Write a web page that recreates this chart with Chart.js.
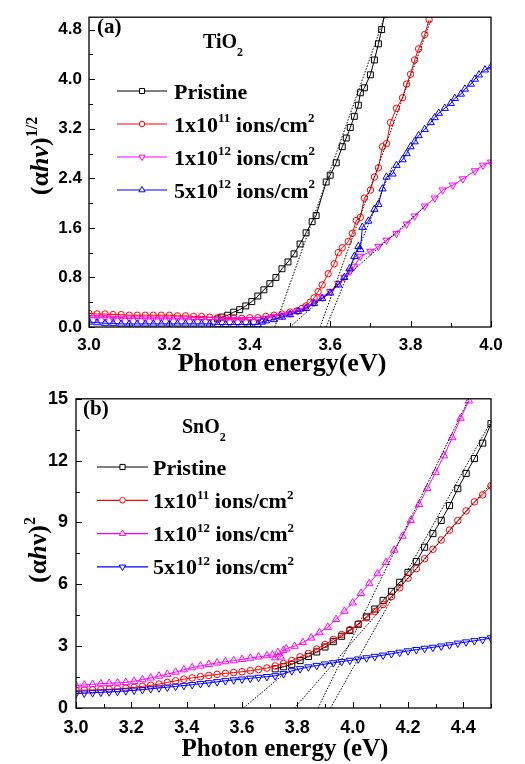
<!DOCTYPE html>
<html>
<head>
<meta charset="utf-8">
<title>Tauc plots TiO2 / SnO2</title>
<script src="https://cdn.jsdelivr.net/npm/chart.js@4.4.1/dist/chart.umd.min.js"></script>
<style>
  html, body { margin: 0; padding: 0; background: #fff; }
  canvas { display: block; }
</style>
</head>
<body>
<canvas id="chart-a" width="525" height="380"></canvas>
<canvas id="chart-b" width="525" height="384"></canvas>
<script>
const SERIF = '"Liberation Serif", "Times New Roman", serif';
const SANS  = '"Liberation Sans", Arial, sans-serif';

const seriesLabels = ['Pristine', '1x10^{11} ions/cm^{2}', '1x10^{12} ions/cm^{2}', '5x10^{12} ions/cm^{2}'];

// ---- (a) TiO2 : (alpha h v)^1/2 ----
const flatX = [3.00,3.02,3.04,3.06,3.08,3.10,3.12,3.14,3.16,3.18,3.20,3.22,3.24,3.26,3.28,3.30,3.32,3.34,3.36,3.38,3.40,3.42];

const tiPristineX = [3.32,3.33,3.345,3.36,3.375,3.39,3.405,3.42,3.435,3.45,3.465,3.48,3.495,3.51,3.525,3.54,3.555,3.565,
  3.59,3.60,3.615,3.63,3.64,3.65,3.66,3.67,3.675,3.685,3.70,3.71,3.72,3.728,3.735];
const tiPristineY = [0.13,0.16,0.19,0.24,0.28,0.34,0.41,0.50,0.60,0.70,0.80,0.94,1.05,1.18,1.34,1.52,1.70,1.80,
  2.34,2.45,2.65,2.91,3.05,3.22,3.40,3.58,3.78,3.86,4.07,4.31,4.57,4.80,5.05];

const tiIon11X = [...flatX,3.44,3.46,3.48,3.50,3.517,3.53,3.54,3.55,3.56,3.57,3.58,3.595,
  3.61,3.62,3.63,3.645,3.655,3.665,3.675,3.685,3.70,3.71,3.72,3.73,3.74,3.75,3.765,3.78,3.79,3.80,3.81,3.82,3.835,3.846];
const tiIon11Y = [0.22,0.21,0.21,0.20,0.20,0.19,0.19,0.19,0.19,0.19,0.19,0.18,0.18,0.17,0.17,0.16,0.15,0.14,0.14,0.14,0.15,0.15,
  0.17,0.19,0.21,0.24,0.26,0.30,0.34,0.40,0.47,0.57,0.68,0.86,
  1.02,1.20,1.28,1.38,1.51,1.72,1.77,2.08,2.21,2.42,2.57,2.91,2.96,3.30,3.53,3.70,3.92,4.08,4.31,4.49,4.72,4.96];

const tiIon12X = [...flatX,3.44,3.46,3.48,3.50,3.52,3.54,3.56,3.58,3.60,3.62,3.635,3.65,3.66,3.675,3.70,3.72,3.74,3.765,3.79,3.81,
  3.835,3.86,3.88,3.905,3.93,3.96,3.98,4.00];
const tiIon12Y = [0.15,0.15,0.15,0.14,0.14,0.14,0.14,0.13,0.13,0.13,0.13,0.13,0.13,0.12,0.12,0.12,0.12,0.12,0.12,0.12,0.12,0.12,
  0.14,0.17,0.19,0.22,0.26,0.32,0.40,0.48,0.57,0.70,0.80,0.90,0.98,1.14,1.22,1.30,1.40,1.51,1.66,1.79,
  1.95,2.08,2.21,2.29,2.39,2.52,2.61,2.66];

const tiIon5X = [...flatX,3.43,3.44,3.46,3.48,3.50,3.52,3.54,3.56,3.58,3.60,3.62,3.635,3.648,3.66,3.67,3.675,3.68,3.695,3.71,3.72,
  3.73,3.74,3.755,3.765,3.78,3.79,3.80,3.81,3.82,3.835,3.85,3.86,3.87,3.885,3.90,3.91,3.925,3.935,3.95,3.96,3.97,3.985,4.00];
const tiIon5Y = [0.08,0.07,0.06,0.06,0.05,0.05,0.05,0.05,0.05,0.05,0.05,0.05,0.05,0.05,0.05,0.05,0.04,0.04,0.04,0.04,0.04,0.04,
  0.08,0.10,0.12,0.16,0.20,0.25,0.30,0.38,0.46,0.55,0.68,0.80,0.94,1.14,1.30,1.25,1.61,1.71,1.90,1.98,
  2.23,2.42,2.47,2.61,2.70,2.80,2.91,2.99,3.09,3.19,3.30,3.38,3.45,3.53,3.61,3.69,3.76,3.84,3.92,4.00,4.07,4.15,4.20];

// linear fits (dotted), [x, y] end points
const tiFits = [
  [[3.462, 0], [3.735, 5.0]],
  [[3.575, 0], [3.85, 4.95]],
  [[3.50, 0], [3.84, 1.97]],
  [[3.59, 0], [3.755, 2.6]],
];

const tiXTicks = [3.0, 3.2, 3.4, 3.6, 3.8, 4.0];
const tiXMinor = [3.1, 3.3, 3.5, 3.7, 3.9];
const tiYTicks = [0, 0.8, 1.6, 2.4, 3.2, 4.0, 4.8];
const tiYMinor = [0.4, 1.2, 2.0, 2.8, 3.6, 4.4];

// ---- (b) SnO2 : (alpha h v)^2 ----
const snGrid = [3.00,3.03,3.06,3.09,3.12,3.15,3.18,3.21,3.24,3.27,3.30,3.33,3.36,3.39,3.42,3.45,3.48,3.51,3.54,3.57,
  3.60,3.63,3.66,3.69,3.72,3.75,3.78,3.81,3.84,3.87,3.90,3.93,3.96,3.99,4.02,4.05,4.08,4.11,4.14,4.17,
  4.20,4.23,4.26,4.29,4.32,4.35,4.38,4.41,4.44,4.47,4.50];

const snPristineX = snGrid.slice(24);
const snPristineY = [1.90,2.00,2.12,2.30,2.50,2.72,2.96,3.22,3.48,3.76,4.06,4.42,4.80,5.22,5.66,6.10,
  6.58,7.10,7.80,8.46,9.10,9.82,10.64,11.38,12.10,12.85,13.80];

const snIon11Y = [0.86,0.87,0.88,0.89,0.91,0.93,0.96,1.00,1.05,1.10,1.16,1.24,1.32,1.40,1.46,1.52,1.58,1.63,1.68,1.72,
  1.76,1.81,1.87,1.94,2.04,2.16,2.30,2.48,2.64,2.86,3.08,3.32,3.56,3.80,4.08,4.38,4.68,5.02,5.40,5.83,
  6.30,6.76,7.24,7.70,8.15,8.63,9.09,9.56,10.00,10.34,10.78];

const snIon12X = [...snGrid.slice(0, 24),3.71,3.72,3.73,3.74,3.75,3.76,3.79,3.82,3.85,3.88,
  3.91,3.94,3.97,4.00,4.03,4.06,4.09,4.12,4.15,4.18,4.21,4.24,4.27,4.30,4.33,4.36,4.39,4.42];
const snIon12Y = [1.09,1.12,1.15,1.18,1.20,1.22,1.24,1.30,1.38,1.46,1.55,1.64,1.74,1.86,1.96,2.04,2.12,2.19,2.25,2.30,
  2.36,2.42,2.48,2.54,2.58,2.44,2.70,2.48,2.80,2.88,3.00,3.18,3.40,3.66,
  3.92,4.30,4.70,5.10,5.56,6.04,6.52,7.06,7.66,8.34,9.10,9.88,10.66,11.44,12.24,13.12,14.06,14.90];

const snIon5Y = [0.70,0.72,0.74,0.76,0.78,0.80,0.83,0.86,0.89,0.93,0.97,1.01,1.05,1.09,1.13,1.18,1.22,1.27,1.32,1.36,
  1.40,1.44,1.48,1.52,1.56,1.66,1.80,1.90,1.99,2.06,2.13,2.19,2.25,2.31,2.37,2.43,2.50,2.56,2.63,2.70,
  2.77,2.83,2.89,2.94,3.00,3.06,3.14,3.20,3.26,3.32,3.40];

const snFits = [
  [[3.92, 0], [4.50, 13.9]],
  [[3.79, 0], [4.50, 10.9]],
  [[3.875, 0], [4.42, 15.0]],
  [[3.605, 0], [3.76, 1.75]],
];

const snXTicks = [3.0, 3.2, 3.4, 3.6, 3.8, 4.0, 4.2, 4.4];
const snXMinor = [3.1, 3.3, 3.5, 3.7, 3.9, 4.1, 4.3, 4.5];
const snYTicks = [0, 3, 6, 9, 12, 15];
const snYMinor = [1.5, 4.5, 7.5, 10.5, 13.5];

// ---------- helpers ----------
function pts(xs, ys) { return xs.map((x, i) => ({ x, y: ys[i] })); }

function tokens(str) {
  const out = [];
  const re = /([\^_~])\{([^}]*)\}|[^\^_~]+/g;
  let m;
  while ((m = re.exec(str))) out.push(m[1] ? { k: m[1], t: m[2] } : { k: '', t: m[0] });
  return out;
}

// rich text: ^{sup} _{sub} ~{italic}; y is the baseline
function drawRich(ctx, str, x, y, size, dry) {
  let cx = x;
  tokens(str).forEach(p => {
    let fs = size, dy = 0, st = 'bold';
    if (p.k === '^') { fs = Math.round(size * 0.6); dy = -size * 0.42; }
    else if (p.k === '_') { fs = Math.round(size * 0.62); dy = size * 0.42; }
    else if (p.k === '~') st = 'italic bold';
    ctx.font = `${st} ${fs}px ${SERIF}`;
    if (!dry) ctx.fillText(p.t, cx, y + dy);
    cx += ctx.measureText(p.t).width;
  });
  return cx - x;
}

function series(label, xs, ys, color, style, r, rot, order) {
  return {
    label, data: pts(xs, ys), order,
    borderColor: color, backgroundColor: 'rgba(0,0,0,0)', borderWidth: 1,
    pointStyle: style, pointRadius: r, pointRotation: rot,
    pointBorderColor: color, pointBackgroundColor: 'rgba(0,0,0,0)', pointBorderWidth: 1,
    tension: 0,
  };
}

function fitSet(f) {
  return {
    label: '', data: f.map(p => ({ x: p[0], y: p[1] })), order: 0,
    borderColor: '#000', borderWidth: 1, borderDash: [1.5, 1.5], pointRadius: 0, tension: 0,
  };
}

function makeDecor(cfg) {
  return {
    id: 'decor',
    afterDraw(chart) {
      const { ctx, chartArea: a, scales: { x, y } } = chart;
      ctx.save();
      // frame
      ctx.strokeStyle = '#000';
      ctx.lineWidth = 1.3;
      ctx.strokeRect(a.left, a.top, a.right - a.left, a.bottom - a.top);
      // inward ticks
      ctx.lineWidth = 1;
      ctx.beginPath();
      const tx = (v, len) => { const p = Math.round(x.getPixelForValue(v)) + 0.5; ctx.moveTo(p, a.bottom); ctx.lineTo(p, a.bottom - len); };
      const ty = (v, len) => { const p = Math.round(y.getPixelForValue(v)) + 0.5; ctx.moveTo(a.left, p); ctx.lineTo(a.left + len, p); };
      cfg.xTicks.forEach(v => tx(v, 6));
      cfg.xMinor.forEach(v => tx(v, 4));
      cfg.yTicks.forEach(v => ty(v, 6));
      cfg.yMinor.forEach(v => ty(v, 4));
      ctx.stroke();

      ctx.fillStyle = '#000';
      ctx.textAlign = 'left';
      ctx.textBaseline = 'alphabetic';

      // axis titles
      const xw = drawRich(ctx, cfg.xTitle, 0, 0, cfg.xTitleSize, true);
      drawRich(ctx, cfg.xTitle, cfg.xTitleX - xw / 2, cfg.xTitleY, cfg.xTitleSize);
      const yw = drawRich(ctx, cfg.yTitle, 0, 0, cfg.yTitleSize, true);
      ctx.save();
      ctx.translate(cfg.yTitleX, cfg.yTitleY);
      ctx.rotate(-Math.PI / 2);
      drawRich(ctx, cfg.yTitle, -yw / 2, 0, cfg.yTitleSize);
      ctx.restore();

      // panel tag and material
      drawRich(ctx, cfg.tag, cfg.tagX, cfg.tagY, 21);
      drawRich(ctx, cfg.material, cfg.matX, cfg.matY, 20);

      // legend
      const L = cfg.legend;
      for (let i = 0; i < 4; i++) {
        const ds = chart.data.datasets[i];
        const ly = L.y0 + i * L.dy;
        ctx.strokeStyle = ds.borderColor;
        ctx.lineWidth = 1.2;
        ctx.beginPath();
        ctx.moveTo(L.x1, ly);
        ctx.lineTo(L.x2, ly);
        ctx.stroke();
        ctx.fillStyle = '#fff';
        ctx.lineWidth = 1;
        Chart.helpers.drawPoint(ctx, {
          pointStyle: ds.pointStyle, radius: ds.pointRadius * 0.85,
          rotation: ds.pointRotation, borderWidth: 1,
        }, (L.x1 + L.x2) / 2, ly);
        ctx.fillStyle = '#000';
        drawRich(ctx, ds.label, L.tx, ly + 7.5, 22);
      }
      ctx.restore();
    }
  };
}

function makeChart(id, datasets, ax, cfg) {
  const tickFont = { family: SANS, size: ax.tickSize, weight: 'bold' };
  return new Chart(document.getElementById(id), {
    type: 'line',
    data: { datasets },
    options: {
      responsive: false, animation: false,
      layout: { padding: { top: ax.top, right: ax.right, left: 0, bottom: 0 } },
      plugins: { legend: { display: false }, tooltip: { enabled: false } },
      scales: {
        x: {
          type: 'linear', min: ax.xMin, max: ax.xMax,
          grid: { display: false, drawTicks: false }, border: { display: false },
          ticks: { color: '#000', font: tickFont, padding: ax.xPad, maxRotation: 0, autoSkip: false,
                   callback: v => v.toFixed(1) },
          afterBuildTicks: s => { s.ticks = ax.xTicks.map(v => ({ value: v })); },
          afterFit: s => { s.height = ax.xHeight; },
        },
        y: {
          type: 'linear', min: ax.yMin, max: ax.yMax,
          grid: { display: false, drawTicks: false }, border: { display: false },
          ticks: { color: '#000', font: tickFont, padding: ax.yPad, autoSkip: false,
                   callback: ax.yFmt },
          afterBuildTicks: s => { s.ticks = ax.yTicks.map(v => ({ value: v })); },
          afterFit: s => { s.width = ax.yWidth; },
        }
      }
    },
    plugins: [makeDecor(cfg)]
  });
}

// ---------- panel (a) ----------
makeChart('chart-a', [
  series(seriesLabels[0], tiPristineX, tiPristineY, '#000000', 'rect', 4.2, 0, 4),
  series(seriesLabels[1], tiIon11X, tiIon11Y, '#ff0000', 'circle', 3.2, 0, 3),
  series(seriesLabels[2], tiIon12X, tiIon12Y, '#ff00ff', 'triangle', 4.2, 180, 2),
  series(seriesLabels[3], tiIon5X, tiIon5Y, '#0000ff', 'triangle', 4.2, 0, 1),
  ...tiFits.map(fitSet),
], {
  xMin: 3, xMax: 4, yMin: 0, yMax: 5, top: 6, right: 34,
  xHeight: 53, yWidth: 89, xPad: 8, yPad: 7, tickSize: 17,
  xTicks: tiXTicks, yTicks: tiYTicks, yFmt: v => v.toFixed(1),
}, {
  xTicks: tiXTicks, xMinor: tiXMinor, yTicks: tiYTicks, yMinor: tiYMinor,
  xTitle: 'Photon energy(eV)', xTitleSize: 26, xTitleX: 282, xTitleY: 371,
  yTitle: '(α~{h}~{v})^{1/2}', yTitleSize: 26, yTitleX: 48, yTitleY: 156,
  tag: '(a)', tagX: 97, tagY: 33,
  material: 'TiO_{2}', matX: 203, matY: 48,
  legend: { x1: 117, x2: 167, tx: 174, y0: 91, dy: 33 },
});

// ---------- panel (b) ----------
makeChart('chart-b', [
  series(seriesLabels[0], snPristineX, snPristineY, '#000000', 'rect', 4.3, 0, 4),
  series(seriesLabels[1], snGrid, snIon11Y, '#ff0000', 'circle', 3.3, 0, 3),
  series(seriesLabels[2], snIon12X, snIon12Y, '#ff00ff', 'triangle', 4.3, 0, 2),
  series(seriesLabels[3], snGrid, snIon5Y, '#0000ff', 'triangle', 4.3, 180, 1),
  ...snFits.map(fitSet),
], {
  xMin: 3, xMax: 4.5, yMin: 0, yMax: 15, top: 7, right: 34,
  xHeight: 56, yWidth: 76, xPad: 9, yPad: 8, tickSize: 18,
  xTicks: snXTicks, yTicks: snYTicks, yFmt: v => String(v),
}, {
  xTicks: snXTicks, xMinor: snXMinor, yTicks: snYTicks, yMinor: snYMinor,
  xTitle: 'Photon energy (eV)', xTitleSize: 25, xTitleX: 285, xTitleY: 376,
  yTitle: '(α~{h}ν)^{2}', yTitleSize: 26, yTitleX: 46, yTitleY: 170,
  tag: '(b)', tagX: 83, tagY: 35,
  material: 'SnO_{2}', matX: 182, matY: 53,
  legend: { x1: 97, x2: 148, tx: 153, y0: 87, dy: 33.3 },
});
</script>
</body>
</html>
